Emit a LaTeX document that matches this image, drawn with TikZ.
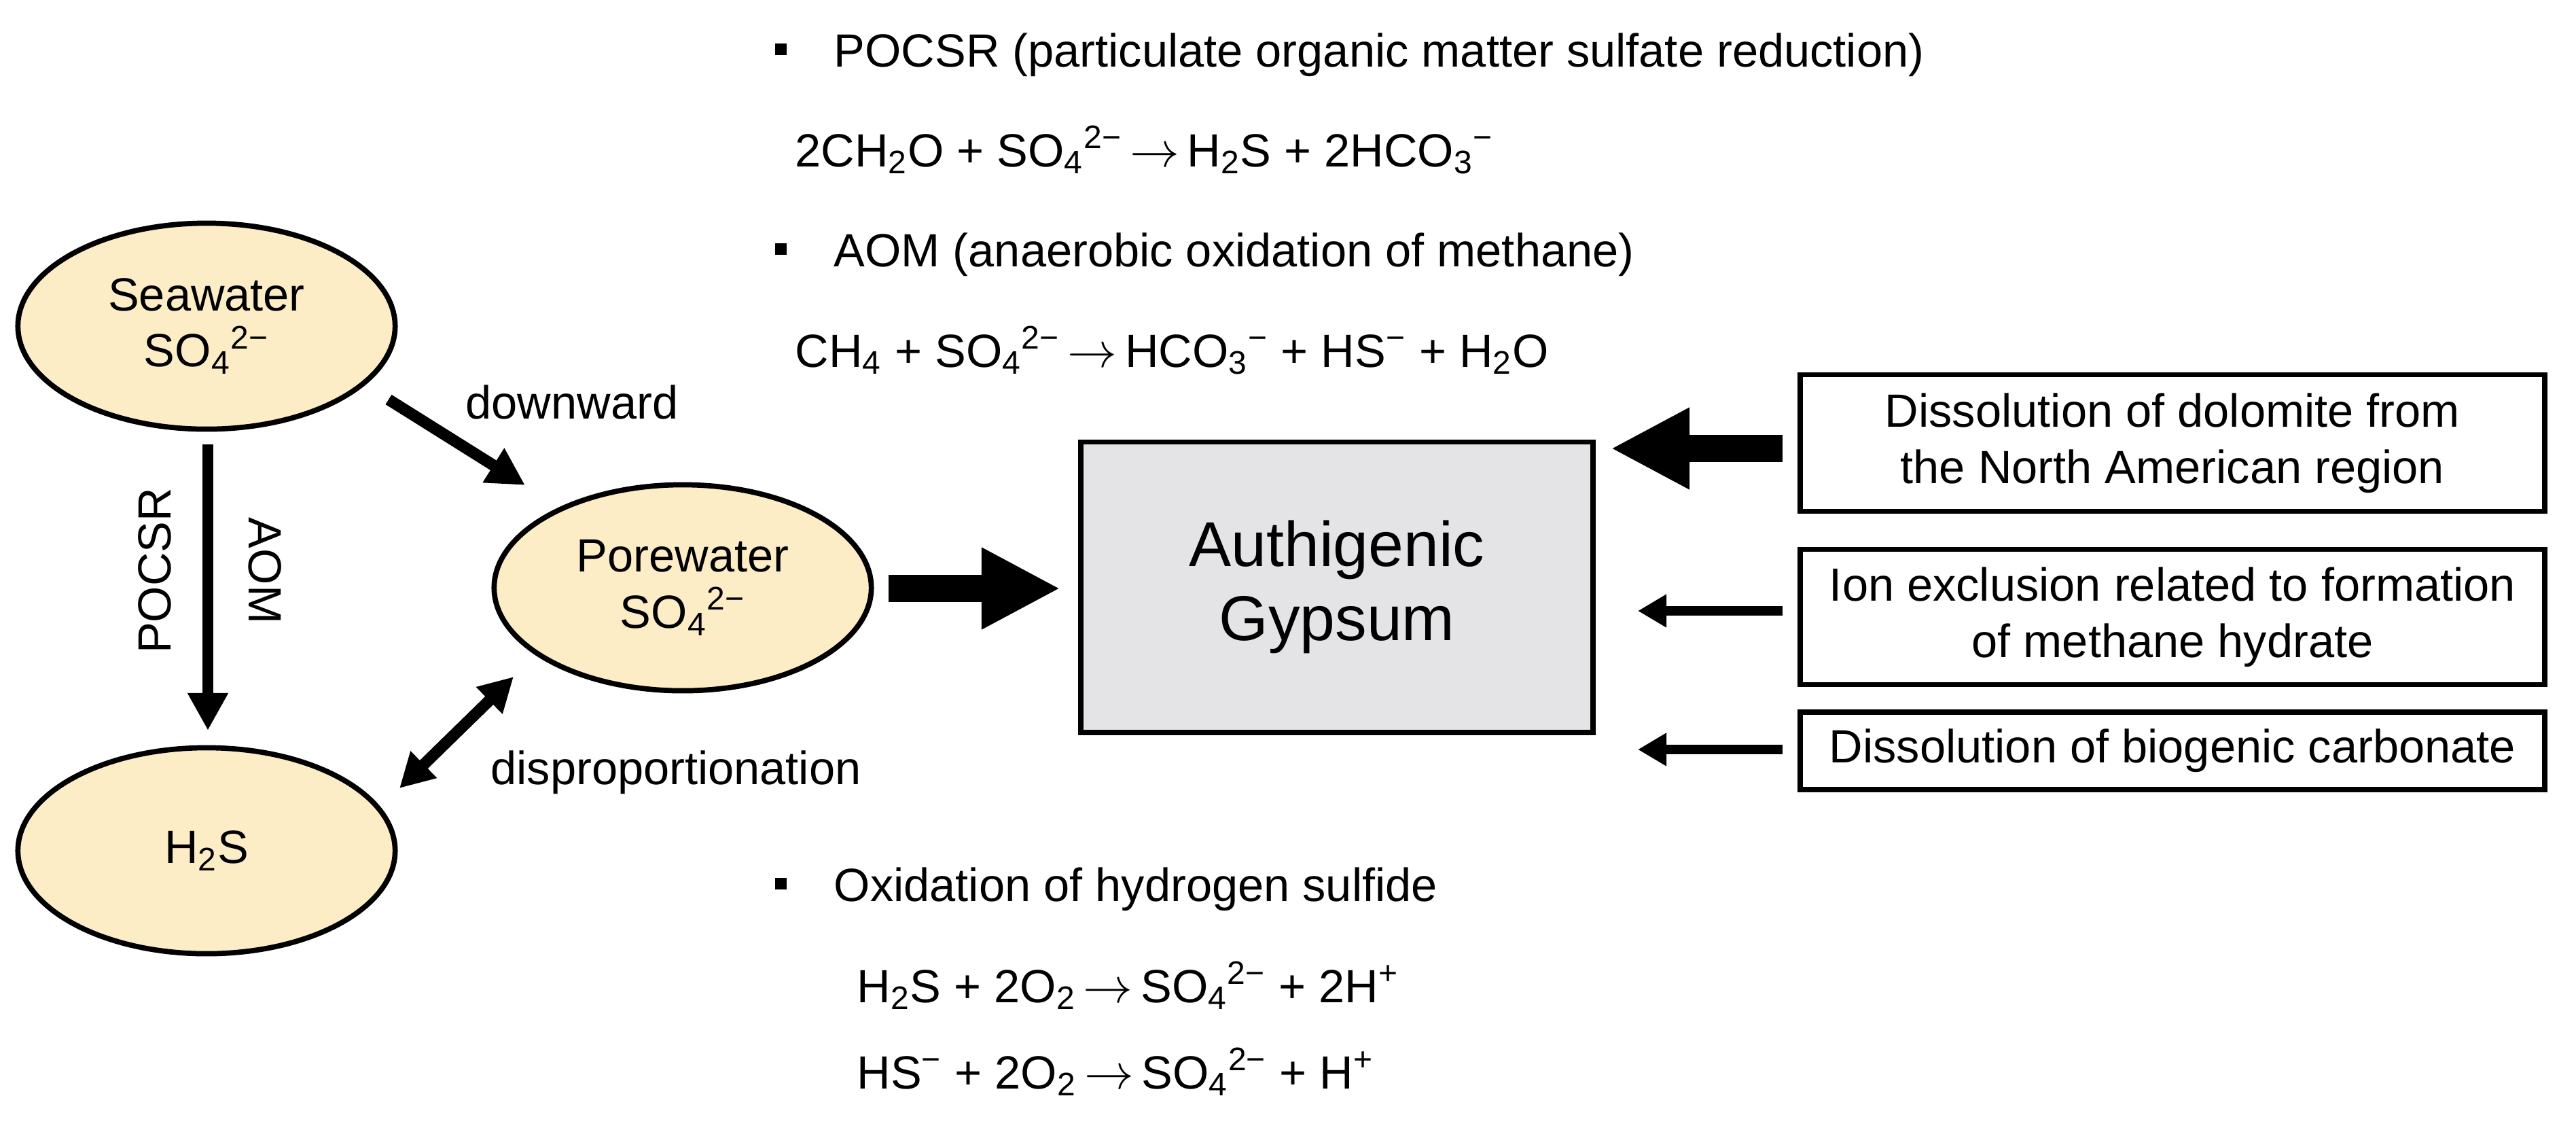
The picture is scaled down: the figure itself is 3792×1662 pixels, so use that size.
\documentclass[tikz,border=0pt]{standalone}
\usepackage{fontspec}
\setmainfont{Liberation Sans}
\usetikzlibrary{arrows.meta,shapes.geometric}
\definecolor{ell}{HTML}{FCEDC6}
\definecolor{gy}{HTML}{E4E4E6}
\newcommand{\sub}[1]{\textsubscript{#1}}
\newcommand{\sups}[1]{\textsuperscript{#1}}
\newcommand{\ra}{\,\(\rightarrow\)\,}
\newcommand{\blt}{\rule[0.17cm]{0.17cm}{0.17cm}\hspace{0.7cm}}
\begin{document}
\begin{tikzpicture}[x=0.01cm,y=-0.01cm,font=\fontsize{19.5}{23.5}\selectfont,
 el/.style={draw,line width=2.2pt,ellipse,fill=ell,minimum width=5.55cm,minimum height=3.03cm,align=center,inner sep=0pt},
 bx/.style={draw,line width=2.2pt,align=center,inner sep=0pt,minimum width=10.96cm},
 ar/.style={line width=4.8pt,-{Triangle[length=0.55cm,width=0.56cm]}},
 big/.style={line width=11.4pt,-{Triangle[length=1.16cm,width=1.12cm]}},
 sm/.style={line width=4pt,-{Triangle[length=0.42cm,width=0.46cm]}},
 tx/.style={anchor=base west,inner sep=0pt}]
\useasboundingbox (0,0) rectangle (3792,1662);
\node[el] (sea) at (304,480) {Seawater\\SO\sub{4}\sups{2−}};
\node[el] (pore) at (1005,865) {Porewater\\SO\sub{4}\sups{2−}};
\node[el] (h2s) at (304,1252) {H\sub{2}S};
\node[draw,line width=2.2pt,fill=gy,minimum width=7.54cm,minimum height=4.27cm,align=center,font=\fontsize{26.5}{31}\selectfont] (gyp) at (1968,864) {Authigenic\\Gypsum};
\node[bx,minimum height=2.01cm] (b1) at (3198,652) {Dissolution of dolomite from\\the North American region};
\node[bx,minimum height=1.99cm] (b2) at (3198,908) {Ion exclusion related to formation\\of methane hydrate};
\node[bx,minimum height=1.14cm] (b3) at (3198,1105) {Dissolution of biogenic carbonate};
\coordinate (s1) at (306,654); \coordinate (s2) at (306,1075);
\draw[ar] (s1) -- (s2);
\coordinate (d1) at (572,588); \coordinate (d2) at (773,714);
\draw[ar] (d1) -- (d2);
\coordinate (p1) at (756,996); \coordinate (p2) at (588,1160);
\draw[line width=4.8pt,{Triangle[length=0.5cm,width=0.52cm]}-{Triangle[length=0.5cm,width=0.52cm]}] (p1) -- (p2);
\coordinate (g1) at (1308,866); \coordinate (g2) at (1561,866);
\draw[big] (g1) -- (g2);
\coordinate (k1) at (2624,660); \coordinate (k2) at (2371,660);
\draw[big] (k1) -- (k2);
\coordinate (m1) at (2624,899); \coordinate (m2) at (2411,899);
\draw[sm] (m1) -- (m2);
\coordinate (n1) at (2624,1103); \coordinate (n2) at (2411,1103);
\draw[sm] (n1) -- (n2);
\node (lab1) at (842,592) {downward};
\node[rotate=90] (lab2) at (228,840) {POCSR};
\node[rotate=-90] (lab3) at (390,840) {AOM};
\node (lab4) at (995,1137) {disproportionation};
\node[tx] (t1) at (1140,98) {\blt POCSR (particulate organic matter sulfate reduction)};
\node[tx] (t2) at (1170,245) {2CH\sub{2}O + SO\sub{4}\sups{2−}\ra H\sub{2}S + 2HCO\sub{3}\sups{−}};
\node[tx] (t3) at (1140,392) {\blt AOM (anaerobic oxidation of methane)};
\node[tx] (t4) at (1170,540) {CH\sub{4} + SO\sub{4}\sups{2−}\ra HCO\sub{3}\sups{−} + HS\sups{−} + H\sub{2}O};
\node[tx] (t5) at (1140,1326) {\blt Oxidation of hydrogen sulfide};
\node[tx] (t6) at (1261,1475) {H\sub{2}S + 2O\sub{2}\ra SO\sub{4}\sups{2−} + 2H\sups{+}};
\node[tx] (t7) at (1261,1602) {HS\sups{−} + 2O\sub{2}\ra SO\sub{4}\sups{2−} + H\sups{+}};
\end{tikzpicture}
\end{document}
